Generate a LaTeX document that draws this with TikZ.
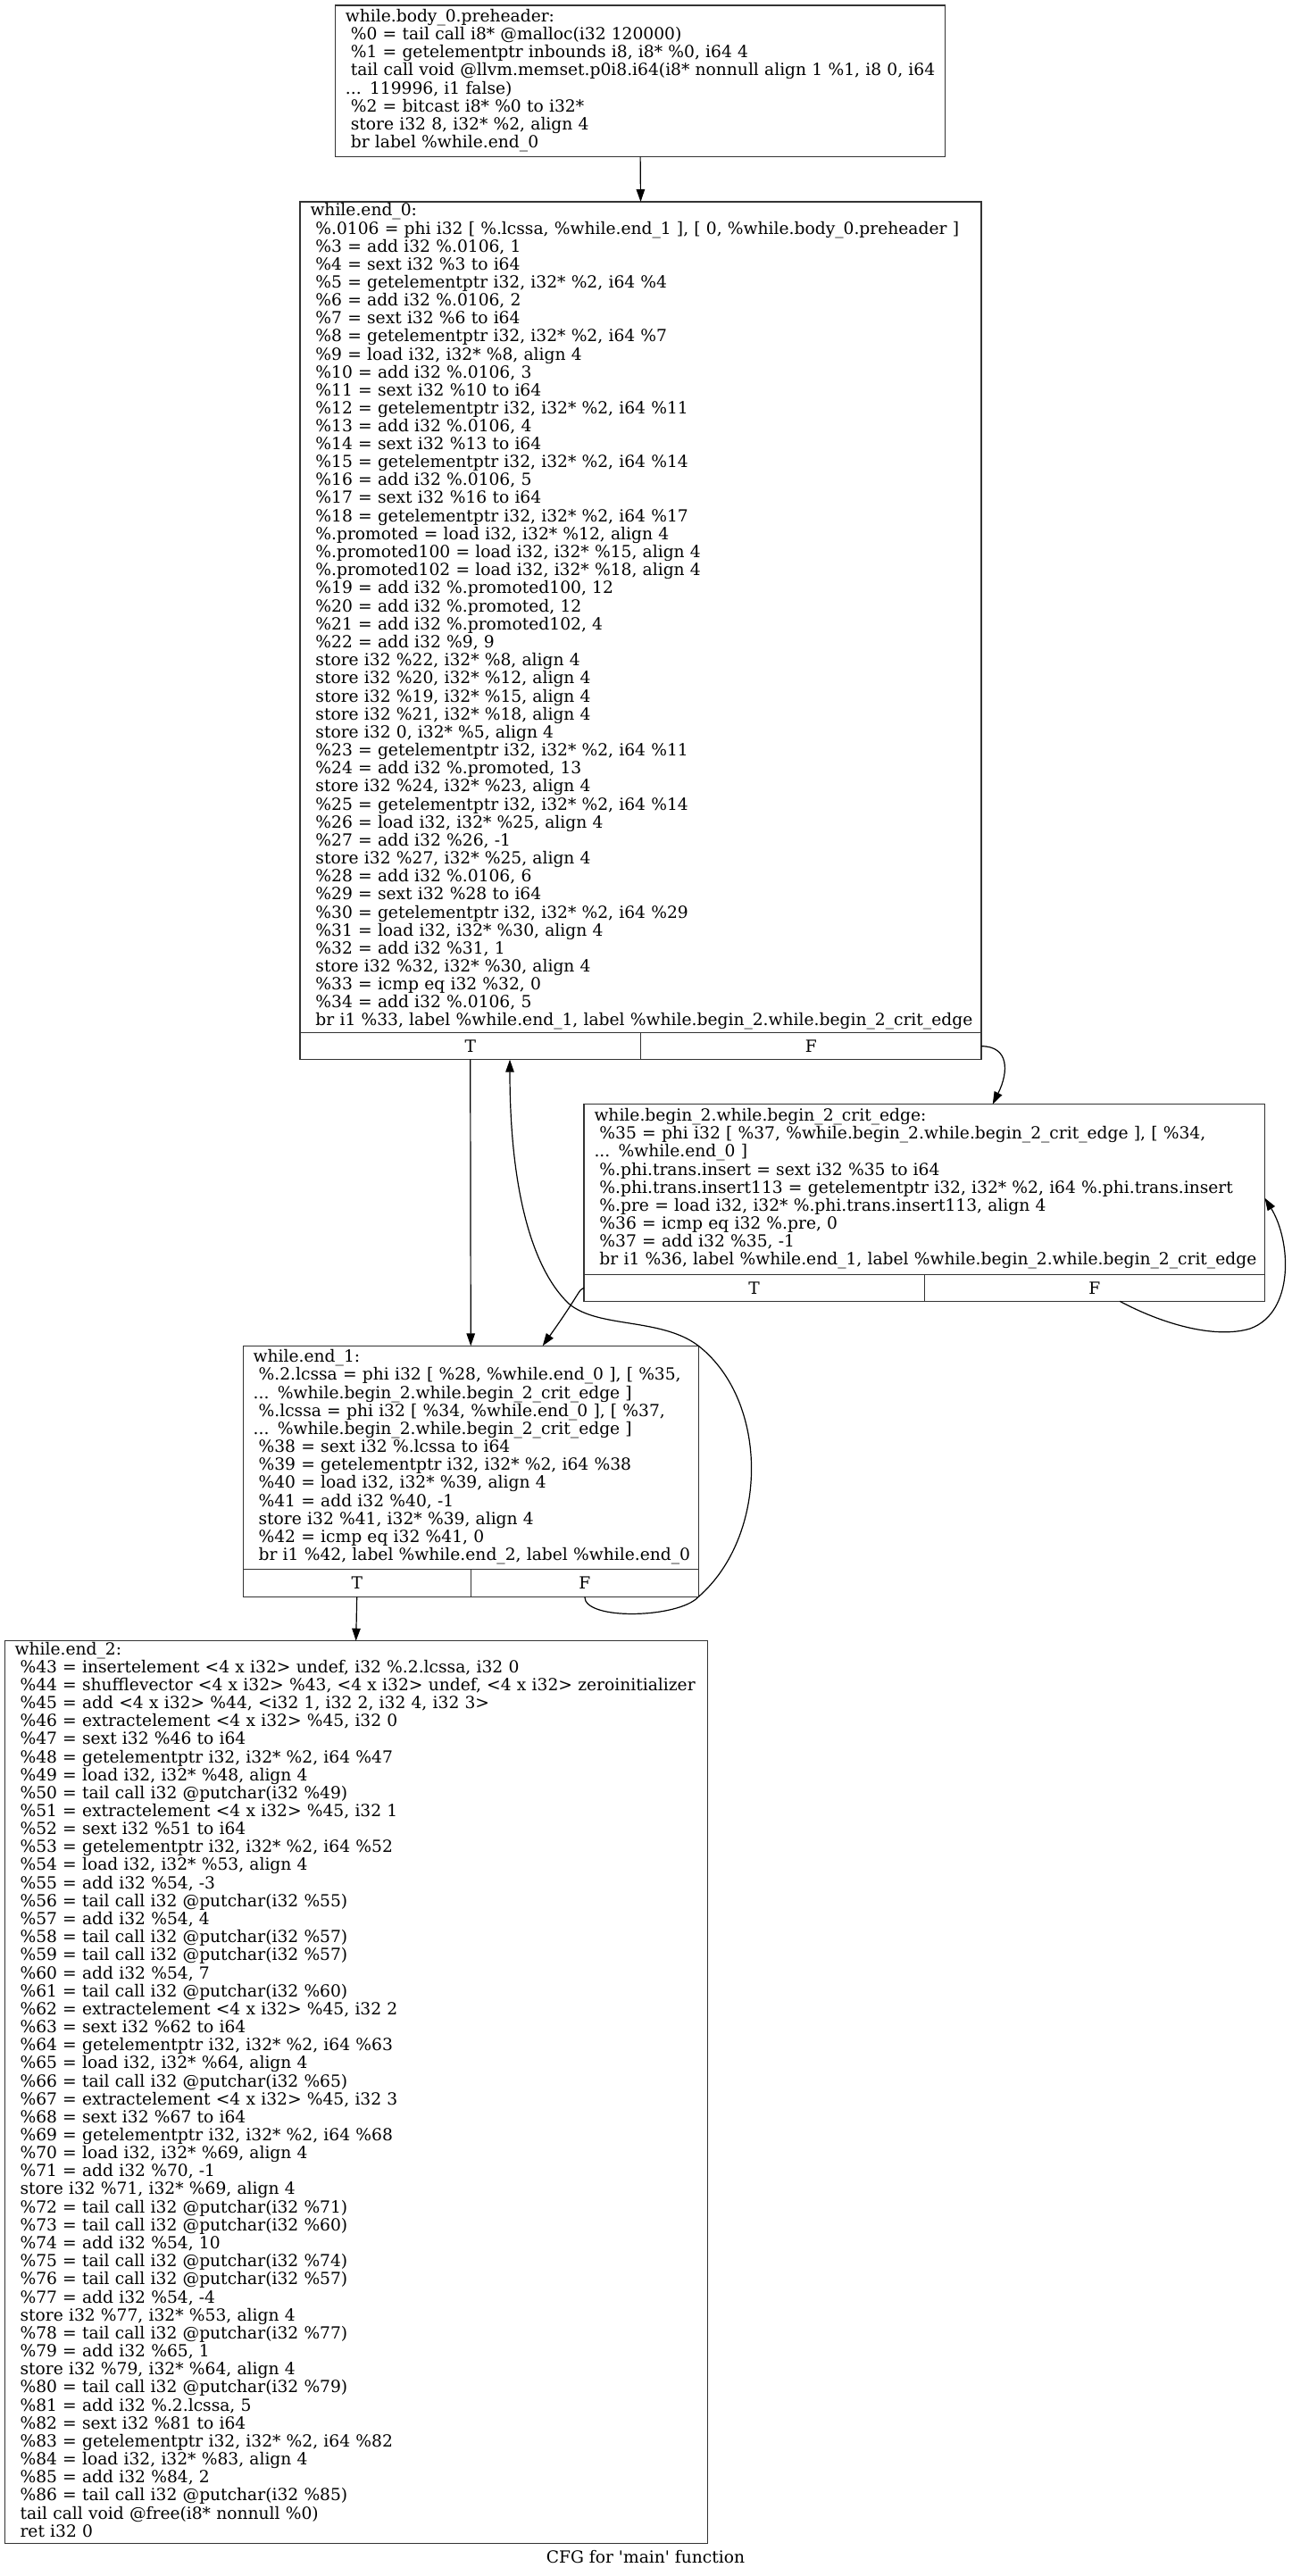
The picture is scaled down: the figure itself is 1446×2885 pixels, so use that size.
\documentclass[tikz,border=0pt]{standalone}
\usepackage{fontspec}
\setmainfont{DejaVu Serif}
\usetikzlibrary{arrows.meta}
\newcommand\cfgfont{\fontsize{18.67pt}{20pt}\selectfont}
\newcommand\ind{\hspace*{\fontdimen2\font}}
\begin{document}
\begin{tikzpicture}[x=1pt,y=-1pt,
  box/.style={draw=black!80, line width=1.1pt, rectangle, anchor=north west, inner xsep=11.5pt, inner ysep=0pt, outer sep=0pt, align=left, font=\cfgfont},
  port/.style={draw=black!80, line width=1.1pt, rectangle, anchor=north west, inner sep=0pt, outer sep=0pt, font=\cfgfont},
  edge/.style={line width=1.2pt, -{Triangle[length=14pt,width=9.5pt]}},
  caption/.style={font=\cfgfont, inner sep=0pt}]
\fill[white] (0,0) rectangle (1446,2885);
\useasboundingbox (0,0) rectangle (1446,2885);

% while.body_0.preheader
\node[box, text width=660.4pt, minimum width=683.4pt, minimum height=169.7pt] (b1) at (375.4,6) {\begin{tabular}{@{}l@{}}
while.body\_0.preheader:\\
\ind \%0 = tail call i8* @malloc(i32 120000)\\
\ind \%1 = getelementptr inbounds i8, i8* \%0, i64 4\\
\ind tail call void @llvm.memset.p0i8.i64(i8* nonnull align 1 \%1, i8 0, i64\\
... 119996, i1 false)\\
\ind \%2 = bitcast i8* \%0 to i32*\\
\ind store i32 8, i32* \%2, align 4\\
\ind br label \%while.end\_0
\end{tabular}};

% while.end_0
\node[box, text width=740pt, minimum width=763pt, minimum height=930.7pt] (b2) at (336,226) {\begin{tabular}{@{}l@{}}
while.end\_0:\\
\ind \%.0106 = phi i32 [ \%.lcssa, \%while.end\_1 ], [ 0, \%while.body\_0.preheader ]\\
\ind \%3 = add i32 \%.0106, 1\\
\ind \%4 = sext i32 \%3 to i64\\
\ind \%5 = getelementptr i32, i32* \%2, i64 \%4\\
\ind \%6 = add i32 \%.0106, 2\\
\ind \%7 = sext i32 \%6 to i64\\
\ind \%8 = getelementptr i32, i32* \%2, i64 \%7\\
\ind \%9 = load i32, i32* \%8, align 4\\
\ind \%10 = add i32 \%.0106, 3\\
\ind \%11 = sext i32 \%10 to i64\\
\ind \%12 = getelementptr i32, i32* \%2, i64 \%11\\
\ind \%13 = add i32 \%.0106, 4\\
\ind \%14 = sext i32 \%13 to i64\\
\ind \%15 = getelementptr i32, i32* \%2, i64 \%14\\
\ind \%16 = add i32 \%.0106, 5\\
\ind \%17 = sext i32 \%16 to i64\\
\ind \%18 = getelementptr i32, i32* \%2, i64 \%17\\
\ind \%.promoted = load i32, i32* \%12, align 4\\
\ind \%.promoted100 = load i32, i32* \%15, align 4\\
\ind \%.promoted102 = load i32, i32* \%18, align 4\\
\ind \%19 = add i32 \%.promoted100, 12\\
\ind \%20 = add i32 \%.promoted, 12\\
\ind \%21 = add i32 \%.promoted102, 4\\
\ind \%22 = add i32 \%9, 9\\
\ind store i32 \%22, i32* \%8, align 4\\
\ind store i32 \%20, i32* \%12, align 4\\
\ind store i32 \%19, i32* \%15, align 4\\
\ind store i32 \%21, i32* \%18, align 4\\
\ind store i32 0, i32* \%5, align 4\\
\ind \%23 = getelementptr i32, i32* \%2, i64 \%11\\
\ind \%24 = add i32 \%.promoted, 13\\
\ind store i32 \%24, i32* \%23, align 4\\
\ind \%25 = getelementptr i32, i32* \%2, i64 \%14\\
\ind \%26 = load i32, i32* \%25, align 4\\
\ind \%27 = add i32 \%26, -1\\
\ind store i32 \%27, i32* \%25, align 4\\
\ind \%28 = add i32 \%.0106, 6\\
\ind \%29 = sext i32 \%28 to i64\\
\ind \%30 = getelementptr i32, i32* \%2, i64 \%29\\
\ind \%31 = load i32, i32* \%30, align 4\\
\ind \%32 = add i32 \%31, 1\\
\ind store i32 \%32, i32* \%30, align 4\\
\ind \%33 = icmp eq i32 \%32, 0\\
\ind \%34 = add i32 \%.0106, 5\\
\ind br i1 \%33, label \%while.end\_1, label \%while.begin\_2.while.begin\_2\_crit\_edge
\end{tabular}};
\node[port, minimum width=381.5pt, minimum height=30pt] (b2T) at (336,1156.7) {T};
\node[port, minimum width=381.5pt, minimum height=30pt] (b2F) at (717.5,1156.7) {F};

% while.begin_2.while.begin_2_crit_edge
\node[box, text width=739.5pt, minimum width=762.5pt, minimum height=190.6pt] (b3) at (654,1236.7) {\begin{tabular}{@{}l@{}}
while.begin\_2.while.begin\_2\_crit\_edge:\\
\ind \%35 = phi i32 [ \%37, \%while.begin\_2.while.begin\_2\_crit\_edge ], [ \%34,\\
... \%while.end\_0 ]\\
\ind \%.phi.trans.insert = sext i32 \%35 to i64\\
\ind \%.phi.trans.insert113 = getelementptr i32, i32* \%2, i64 \%.phi.trans.insert\\
\ind \%.pre = load i32, i32* \%.phi.trans.insert113, align 4\\
\ind \%36 = icmp eq i32 \%.pre, 0\\
\ind \%37 = add i32 \%35, -1\\
\ind br i1 \%36, label \%while.end\_1, label \%while.begin\_2.while.begin\_2\_crit\_edge
\end{tabular}};
\node[port, minimum width=381.25pt, minimum height=30pt] (b3T) at (654,1427.3) {T};
\node[port, minimum width=381.25pt, minimum height=30pt] (b3F) at (1035.25,1427.3) {F};

% while.end_1
\node[box, text width=487.1pt, minimum width=510.1pt, minimum height=250.4pt] (b4) at (272.2,1507.3) {\begin{tabular}{@{}l@{}}
while.end\_1:\\
\ind \%.2.lcssa = phi i32 [ \%28, \%while.end\_0 ], [ \%35,\\
... \%while.begin\_2.while.begin\_2\_crit\_edge ]\\
\ind \%.lcssa = phi i32 [ \%34, \%while.end\_0 ], [ \%37,\\
... \%while.begin\_2.while.begin\_2\_crit\_edge ]\\
\ind \%38 = sext i32 \%.lcssa to i64\\
\ind \%39 = getelementptr i32, i32* \%2, i64 \%38\\
\ind \%40 = load i32, i32* \%39, align 4\\
\ind \%41 = add i32 \%40, -1\\
\ind store i32 \%41, i32* \%39, align 4\\
\ind \%42 = icmp eq i32 \%41, 0\\
\ind br i1 \%42, label \%while.end\_2, label \%while.end\_0
\end{tabular}};
\node[port, minimum width=255.05pt, minimum height=30.6pt] (b4T) at (272.2,1757.7) {T};
\node[port, minimum width=255.05pt, minimum height=30.6pt] (b4F) at (527.25,1757.7) {F};

% while.end_2
\node[box, text width=764.2pt, minimum width=787.2pt, minimum height=1010.6pt] (b5) at (5.1,1837.7) {\begin{tabular}{@{}l@{}}
while.end\_2:\\
\ind \%43 = insertelement <4 x i32> undef, i32 \%.2.lcssa, i32 0\\
\ind \%44 = shufflevector <4 x i32> \%43, <4 x i32> undef, <4 x i32> zeroinitializer\\
\ind \%45 = add <4 x i32> \%44, <i32 1, i32 2, i32 4, i32 3>\\
\ind \%46 = extractelement <4 x i32> \%45, i32 0\\
\ind \%47 = sext i32 \%46 to i64\\
\ind \%48 = getelementptr i32, i32* \%2, i64 \%47\\
\ind \%49 = load i32, i32* \%48, align 4\\
\ind \%50 = tail call i32 @putchar(i32 \%49)\\
\ind \%51 = extractelement <4 x i32> \%45, i32 1\\
\ind \%52 = sext i32 \%51 to i64\\
\ind \%53 = getelementptr i32, i32* \%2, i64 \%52\\
\ind \%54 = load i32, i32* \%53, align 4\\
\ind \%55 = add i32 \%54, -3\\
\ind \%56 = tail call i32 @putchar(i32 \%55)\\
\ind \%57 = add i32 \%54, 4\\
\ind \%58 = tail call i32 @putchar(i32 \%57)\\
\ind \%59 = tail call i32 @putchar(i32 \%57)\\
\ind \%60 = add i32 \%54, 7\\
\ind \%61 = tail call i32 @putchar(i32 \%60)\\
\ind \%62 = extractelement <4 x i32> \%45, i32 2\\
\ind \%63 = sext i32 \%62 to i64\\
\ind \%64 = getelementptr i32, i32* \%2, i64 \%63\\
\ind \%65 = load i32, i32* \%64, align 4\\
\ind \%66 = tail call i32 @putchar(i32 \%65)\\
\ind \%67 = extractelement <4 x i32> \%45, i32 3\\
\ind \%68 = sext i32 \%67 to i64\\
\ind \%69 = getelementptr i32, i32* \%2, i64 \%68\\
\ind \%70 = load i32, i32* \%69, align 4\\
\ind \%71 = add i32 \%70, -1\\
\ind store i32 \%71, i32* \%69, align 4\\
\ind \%72 = tail call i32 @putchar(i32 \%71)\\
\ind \%73 = tail call i32 @putchar(i32 \%60)\\
\ind \%74 = add i32 \%54, 10\\
\ind \%75 = tail call i32 @putchar(i32 \%74)\\
\ind \%76 = tail call i32 @putchar(i32 \%57)\\
\ind \%77 = add i32 \%54, -4\\
\ind store i32 \%77, i32* \%53, align 4\\
\ind \%78 = tail call i32 @putchar(i32 \%77)\\
\ind \%79 = add i32 \%65, 1\\
\ind store i32 \%79, i32* \%64, align 4\\
\ind \%80 = tail call i32 @putchar(i32 \%79)\\
\ind \%81 = add i32 \%.2.lcssa, 5\\
\ind \%82 = sext i32 \%81 to i64\\
\ind \%83 = getelementptr i32, i32* \%2, i64 \%82\\
\ind \%84 = load i32, i32* \%83, align 4\\
\ind \%85 = add i32 \%84, 2\\
\ind \%86 = tail call i32 @putchar(i32 \%85)\\
\ind tail call void @free(i8* nonnull \%0)\\
\ind ret i32 0
\end{tabular}};

\node[caption] (cap) at (723,2864) {CFG for \textquotesingle{}main\textquotesingle{} function};

% helper coordinates for curved edges
\coordinate (k1) at (637,1460);
\coordinate (k2) at (1400,1488);

% edges
\draw[edge] (b1.south) -- (b2.north);
\draw[edge] (b2T.south) -- (b4.north);
\draw[edge] (b2F.east) .. controls +(31,0) and +(18.3,-36.7) .. ([xshift=76.5pt]b3.north);
\draw[edge] (b3T.west) .. controls +(-6,1.7) and +(42.3,-59.3) .. ([xshift=80.45pt]b4.north);
\draw[edge] ([xshift=28.25pt]b3F.south) .. controls +(46,24.7) and +(-40,12) .. (k2)
   .. controls +(50,-18) and +(29.7,48.3) .. ([yshift=-9.7pt]b3.east);
\draw[edge] (b4F.south) .. controls +(0,27) and +(-22,24) .. (b4F.south east)
   .. controls +(78,-68) and +(80,63) .. (b4.north east)
   .. controls +(-42,-32) and +(33,28) .. (k1)
   .. controls +(-42,-40) and +(0,143) .. ([xshift=44.25pt]b2T.south);
\draw[edge] (b4T.south) -- (b5.north);
\end{tikzpicture}
\end{document}
